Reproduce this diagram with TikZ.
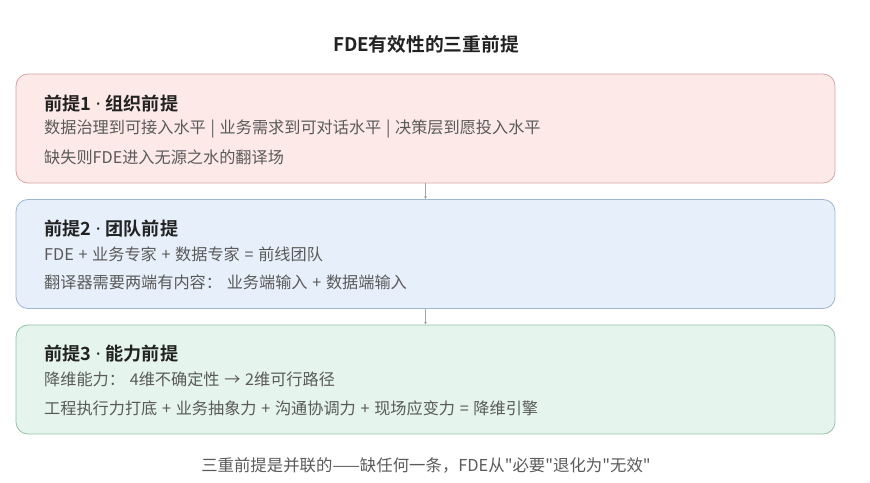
\documentclass[tikz,border=0pt]{standalone}
\usepackage{fontspec}
\setmainfont{Noto Sans CJK SC}[BoldFont={Noto Sans CJK SC Bold},WordSpace=1.3]
\newfontfamily\latinfont{Noto Sans}
\usetikzlibrary{positioning,arrows.meta}

\definecolor{pinkFill}{HTML}{FDE9E8}
\definecolor{pinkLine}{HTML}{D6A6A4}
\definecolor{blueFill}{HTML}{E7EFFA}
\definecolor{blueLine}{HTML}{A0B6D2}
\definecolor{greenFill}{HTML}{E5F4EC}
\definecolor{greenLine}{HTML}{95C4AA}
\definecolor{headTxt}{HTML}{222222}
\definecolor{bodyTxt}{HTML}{5A5A5A}

\newcommand{\premdot}{{\latinfont\ ·\ }}

\begin{document}
\begin{tikzpicture}
  [x=0.03cm,y=-0.03cm,
   premN/.style={draw,line width=0.7pt,rounded corners=0.36cm,minimum width=24.57cm,minimum height=3.27cm,inner sep=0pt},
   headN/.style={anchor=west,inner sep=0pt,font=\fontsize{15.5}{17}\selectfont\bfseries,text=headTxt},
   bodyN/.style={anchor=west,inner sep=0pt,font=\fontsize{13.8}{15}\selectfont,text=bodyTxt},
   linkA/.style={draw=gray!70,line width=0.5pt,-{Stealth[length=2.5pt,width=2.5pt]}},
  ]
 \useasboundingbox (0,0) rectangle (870,483);

 \node[inner sep=0pt,font=\fontsize{16}{18}\selectfont\bfseries,text=headTxt] (title) at (426,44) {FDE有效性的三重前提};

 % premise boxes
 \node[premN,fill=pinkFill,draw=pinkLine] (org) at (425.5,128.5) {};
 \node[premN,fill=blueFill,draw=blueLine] (team) at (425.5,254) {};
 \node[premN,fill=greenFill,draw=greenLine] (cap) at (425.5,379.5) {};

 \node[headN] (orgH) at (44,104) {前提1\premdot 组织前提};
 \node[bodyN] (orgA) at (44,129) {数据治理到可接入水平 | 业务需求到可对话水平 | 决策层到愿投入水平};
 \node[bodyN] (orgB) at (44,157) {缺失则FDE进入无源之水的翻译场};

 \node[headN] (teamH) at (44,229) {前提2\premdot 团队前提};
 \node[bodyN] (teamA) at (44,254) {FDE + 业务专家 + 数据专家 = 前线团队};
 \node[bodyN] (teamB) at (44,282) {翻译器需要两端有内容： 业务端输入 + 数据端输入};

 \node[headN] (capH) at (44,354) {前提3\premdot 能力前提};
 \node[bodyN] (capA) at (44,379) {降维能力： 4维不确定性 → 2维可行路径};
 \node[bodyN] (capB) at (44,408) {工程执行力打底 + 业务抽象力 + 沟通协调力 + 现场应变力 = 降维引擎};

 \draw[linkA] (org.south) -- (team.north);
 \draw[linkA] (team.south) -- (cap.north);

 \node[inner sep=0pt,font=\fontsize{14}{16}\selectfont,text=bodyTxt] (note) at (426,465) {三重前提是并联的——缺任何一条，FDE从\textquotedbl 必要\textquotedbl 退化为\textquotedbl 无效\textquotedbl};
\end{tikzpicture}
\end{document}
